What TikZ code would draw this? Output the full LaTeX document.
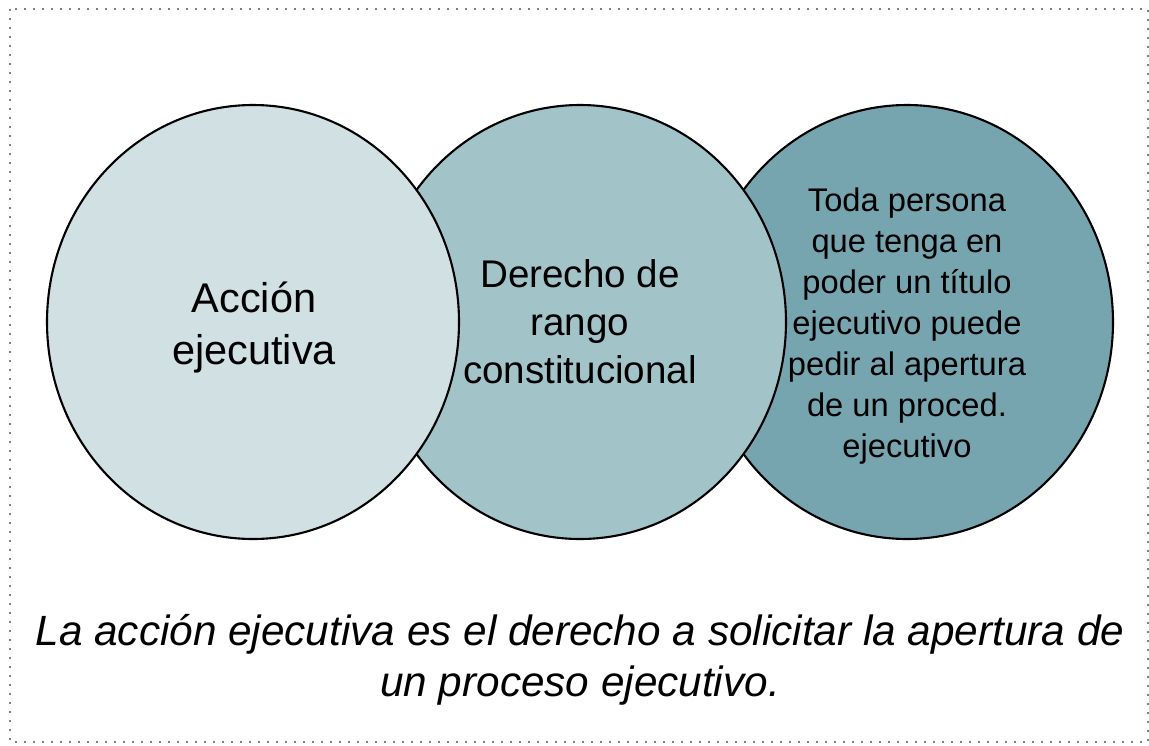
\documentclass[tikz,border=0pt]{standalone}
\usepackage{fontspec}
\setmainfont{Liberation Sans}
\usetikzlibrary{shapes.geometric}
\definecolor{cyanA}{HTML}{D0E0E3}
\definecolor{cyanB}{HTML}{A2C4C9}
\definecolor{cyanC}{HTML}{76A5AF}
\tikzset{
  bubble/.style={ellipse, draw=black, line width=2.1pt, minimum width=412pt, minimum height=434pt, inner sep=0pt, align=center, text=black},
  frame/.style={draw=gray, line width=1.4pt, dash pattern=on 1.8pt off 7.2pt}
}
\begin{document}
\begin{tikzpicture}[x=1pt,y=-1pt]
\useasboundingbox (0,0) rectangle (1149,745);
\draw[frame] (10,9) rectangle (1148,742);
\node[bubble, fill=cyanC] (c3) at (907,322) {};
\node[align=center, font=\fontsize{32.7}{41}\selectfont] (t3) at (907,326)
  {Toda persona\\que tenga en\\poder un título\\ejecutivo puede\\pedir al apertura\\de un proced.\\ejecutivo};
\node[bubble, fill=cyanB, font=\fontsize{38.6}{48}\selectfont] (c2) at (580,322)
  {Derecho de\\rango\\constitucional};
\node[bubble, fill=cyanA] (c1) at (253,322) {};
\node[align=center, font=\fontsize{41.5}{52}\selectfont] (t1) at (254,328)
  {Acción\\ejecutiva};
\node[align=center, font=\fontsize{42.3}{51}\selectfont\itshape] (cap) at (580,660)
  {La acción ejecutiva es el derecho a solicitar la apertura de\\un proceso ejecutivo.};
\end{tikzpicture}
\end{document}
